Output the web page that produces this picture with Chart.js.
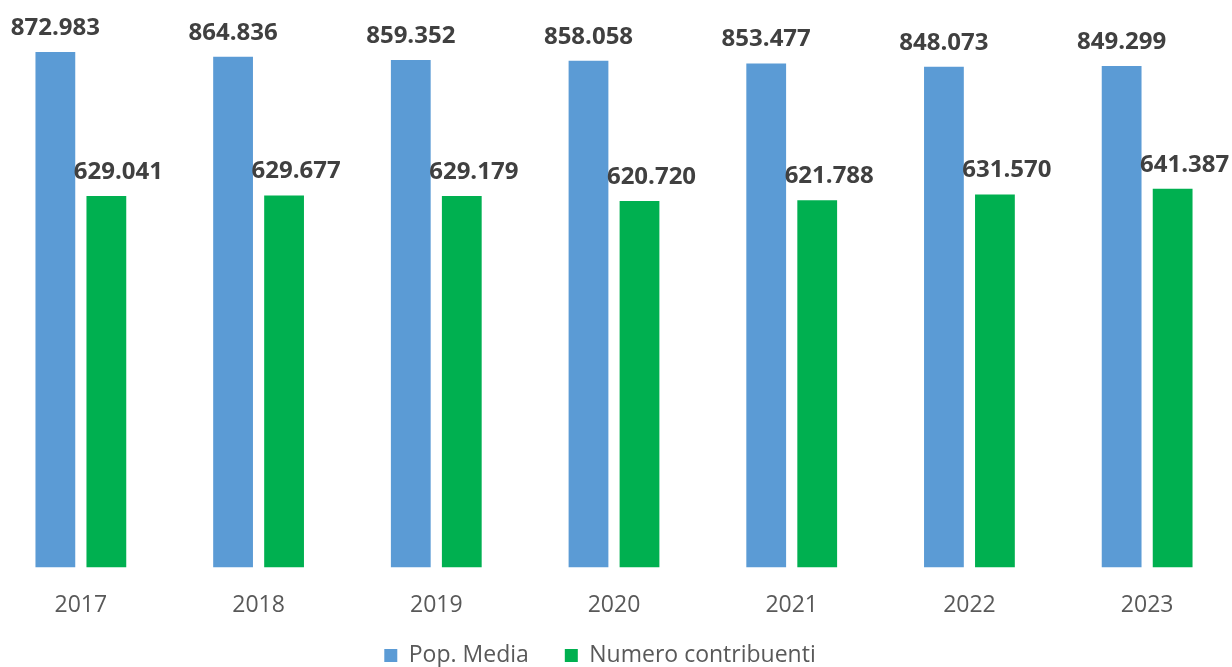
<!DOCTYPE html>
<html>
    <head>
        <title>Pop. Media / Numero contribuenti</title>
        <style>
            html, body
            {
                margin: 0;
                padding: 0;
                overflow: hidden;
                background: #ffffff;
            }

            #chartWrapper
            {
                position: absolute;
                left: -8px;
                top: 0;
                width: 1244px;
                height: 704px;
            }
        </style>
        <script src="https://cdn.jsdelivr.net/npm/chart.js"></script>
        <script>
            // values
            const years = ["2017", "2018", "2019", "2020", "2021", "2022", "2023"];
            const popMedia = [872983, 864836, 859352, 858058, 853477, 848073, 849299];
            const contribuenti = [629041, 629677, 629179, 620720, 621788, 631570, 641387];

            const fmt = v => v.toLocaleString("it-IT");

            // draws the value over each bar (green ones sit a bit to the right, like the original)
            const valueLabels = {
                id: "valueLabels",
                afterDatasetsDraw(chart)
                {
                    const ctx = chart.ctx;
                    ctx.save();
                    ctx.font = "bold 24px 'Open Sans'";
                    ctx.fillStyle = "#404040";
                    ctx.textAlign = "center";
                    ctx.textBaseline = "middle";
                    chart.data.datasets.forEach((ds, i) => {
                        const shift = i == 1 ? 12 : 0;
                        chart.getDatasetMeta(i).data.forEach((bar, j) => {
                            ctx.fillText(fmt(ds.data[j]), bar.x + shift, bar.y - 24);
                        });
                    });
                    ctx.restore();
                }
            };

            // legend wants wide gaps between items (padding) but has to sit close to the ticks,
            // and in the original it is a bit left of centre
            const moveLegend = {
                id: "moveLegend",
                afterLayout(chart)
                {
                    const lg = chart.legend;
                    lg.top -= 27;
                    lg.bottom -= 27;
                    lg.left -= 14;
                    lg.right -= 14;
                }
            };

            function init()
            {
                const chartHTML = document.getElementById("barChart");
                new Chart(chartHTML, {
                    type: "bar",
                    data: {
                        labels: years,
                        datasets: [
                            {
                                label: "Pop. Media",
                                data: popMedia,
                                backgroundColor: "#5b9bd5"
                            },
                            {
                                label: "Numero contribuenti",
                                data: contribuenti,
                                backgroundColor: "#00b050"
                            }
                        ]
                    },
                    options: {
                        responsive: true,
                        maintainAspectRatio: false,
                        animation: false,
                        categoryPercentage: 0.574,
                        barPercentage: 0.78,
                        layout: {padding: {top: 36, left: 0, right: 0, bottom: 0}},
                        scales: {
                            x: {
                                grid: {display: false},
                                border: {display: false},
                                ticks: {
                                    color: "#595959",
                                    font: {family: "Open Sans", size: 23},
                                    padding: 16
                                }
                            },
                            y: {
                                display: false,
                                min: 0,
                                max: 900000
                            }
                        },
                        plugins: {
                            tooltip: {enabled: false},
                            legend: {
                                position: "bottom",
                                labels: {
                                    boxWidth: 13,
                                    boxHeight: 13,
                                    padding: 36,
                                    color: "#595959",
                                    font: {family: "Open Sans", size: 23}
                                }
                            }
                        }
                    },
                    plugins: [valueLabels, moveLegend]
                });
            }
        </script>
    </head>
    <body onload="init();">
        <div id="chartWrapper">
            <canvas id="barChart"></canvas>
        </div>
    </body>
</html>
